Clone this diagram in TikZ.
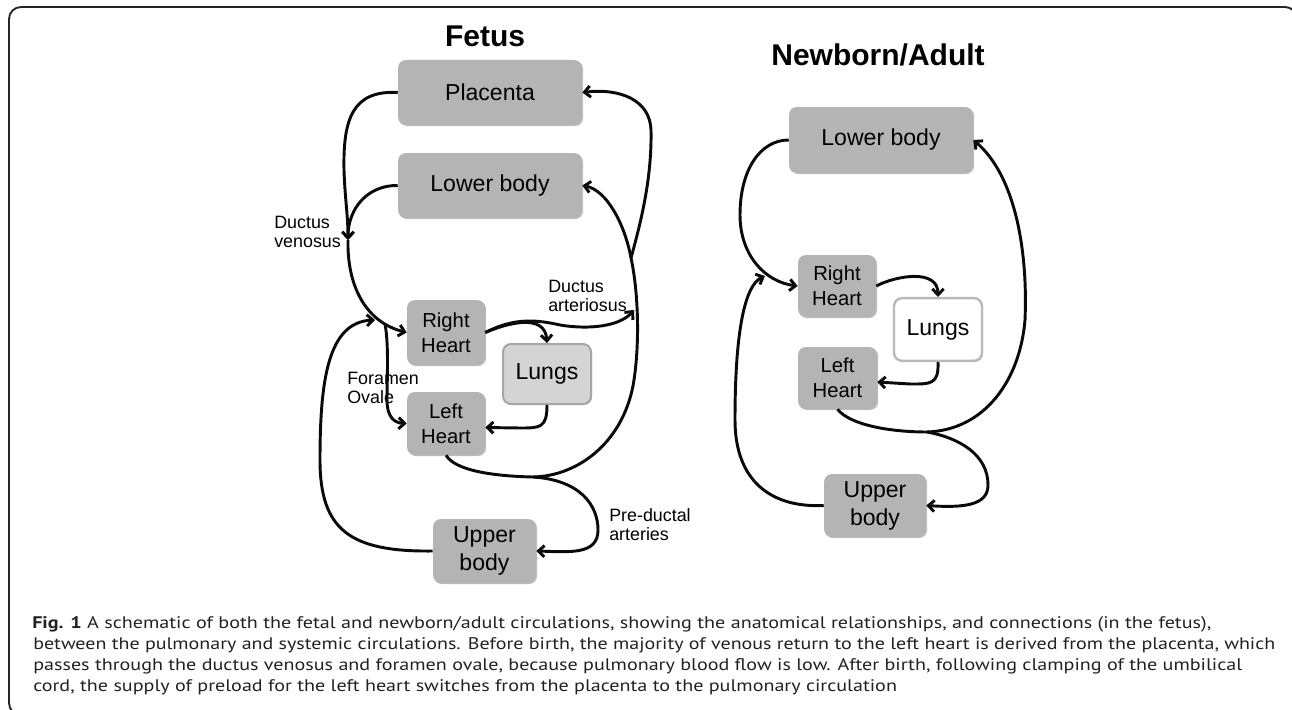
\documentclass[tikz,border=0pt]{standalone}
\usepackage{fontspec}
\setmainfont{Liberation Sans}
\newfontfamily\capfont{PT Sans}
\usetikzlibrary{arrows.meta,shadows,patterns}
\definecolor{boxgray}{RGB}{180,180,180}
\definecolor{lunggray}{RGB}{212,212,212}
\definecolor{lineblack}{RGB}{10,10,10}
\definecolor{capcol}{RGB}{35,32,33}
\newsavebox\capbox
\newcommand\fitto[2]{\sbox\capbox{#2}\pgfmathsetmacro\fitsx{#1/\the\wd\capbox}\xdef\lastsx{\fitsx}\scalebox{\fitsx}[1]{\usebox\capbox}}
\newcommand\fitwith[1]{\scalebox{\lastsx}[1]{#1}}
\begin{document}
\begin{tikzpicture}[x=0.75pt,y=-0.75pt,
  box/.style={rounded corners=6pt, fill=boxgray, inner sep=0pt, align=center,
    drop shadow={shadow xshift=0.8pt, shadow yshift=-0.8pt, opacity=0.25, fill=black}},
  bigf/.style={font=\fontsize{17.3}{21}\selectfont},
  hf/.style={font=\fontsize{15.2}{18.6}\selectfont},
  lbl/.style={font=\fontsize{13.4}{14.25}\selectfont, align=left, inner sep=0pt, anchor=north west},
  ttl/.style={font=\fontsize{22.5}{27}\bfseries\selectfont, anchor=base, inner sep=0pt},
  capl/.style={font=\capfont\fontsize{12.6}{15}\selectfont, text=capcol, anchor=base west, inner sep=0pt},
  conn/.style={line width=2.2pt, draw=lineblack},
  arr/.style={conn, -{Straight Barb[length=4.5pt,width=8.5pt]}}]
\useasboundingbox (0,0) rectangle (1292,710);
\clip (0,0) rectangle (1292,710);
% frame
\draw[line width=1.4pt, draw=black!85, rounded corners=9pt] (9,7) rectangle (1297,715);

% titles
\node[ttl] (tf) at (485,47) {Fetus};
\node[ttl] (tn) at (878,65) {Newborn/Adult};

% fetus boxes
\node[box, bigf, minimum width=138pt, minimum height=48.75pt] (pl) at (490,92.5) {Placenta};
\node[box, bigf, minimum width=138pt, minimum height=48.75pt] (lbf) at (490,185.5) {Lower body};
\node[box, hf, minimum width=58.5pt, minimum height=48.75pt] (rhf) at (446,332.5) {Right\\Heart};
\node[rounded corners=6pt, inner sep=0pt, draw=gray!70, line width=1.5pt, fill=lunggray,
      bigf, minimum width=66pt, minimum height=45pt,
      drop shadow={shadow xshift=0.8pt, shadow yshift=-0.8pt, opacity=0.25, fill=black}] (luf) at (547,374) {Lungs};
\node[box, hf, minimum width=58.5pt, minimum height=47.25pt] (lhf) at (446,423.5) {Left\\Heart};
\node[box, bigf, minimum width=77.25pt, minimum height=48pt] (ubf) at (484.5,551) {Upper\\body};

% newborn boxes
\node[box, bigf, minimum width=138pt, minimum height=49.5pt] (lbn) at (881,140) {Lower body};
\node[box, hf, minimum width=58.5pt, minimum height=46.5pt] (rhn) at (837,286) {Right\\Heart};
\node[rounded corners=6pt, inner sep=0pt, draw=gray!55, line width=1.8pt, fill=white,
      bigf, minimum width=66pt, minimum height=47pt,
      drop shadow={shadow xshift=0.8pt, shadow yshift=-0.8pt, opacity=0.2, fill=black}] (lun) at (938,329.5) {Lungs};
\node[box, hf, minimum width=59.25pt, minimum height=46.5pt] (lhn) at (837.5,378) {Left\\Heart};
\node[box, bigf, minimum width=76.5pt, minimum height=47.25pt] (ubn) at (875,505.5) {Upper\\body};

% labels
\node[lbl] (ldv) at (274,216) {Ductus\\venosus};
\node[lbl] (lda) at (548,280) {Ductus\\arteriosus};
\node[lbl] (lfo) at (347,372) {Foramen\\Ovale};
\node[lbl] (lpd) at (609,508) {Pre-ductal\\arteries};

% junction coordinates
\coordinate (dv) at (348,240);
\coordinate (fo) at (385,324);
\coordinate (ret) at (375,320);
\coordinate (da) at (634,310);
\coordinate (j1) at (533,477);
\coordinate (m1) at (631,258);
\coordinate (rtn) at (765,276);
\coordinate (j2) at (927,432);

% fetus connectors
\draw[arr] (pl.west) .. controls (352,90) and (343,120) .. (344,170) .. controls (345,200) and (348,215) .. (dv);
\draw[arr] (lbf.west) .. controls (368,185) and (348,208) .. (dv);
\draw[arr] (dv) .. controls (347,285) and (365,322) .. (rhf.west);
\draw[arr] (fo) .. controls (389,345) and (387,380) .. (387,400) .. controls (387,418) and (395,423) .. (lhf.west);
\draw[arr] (ubf.west) .. controls (350,552) and (320,530) .. (320,460) .. controls (320,380) and (328,322) .. (ret);
\draw[arr] (rhf.east) .. controls (505,324) and (545,312) .. (luf.north);
\draw[arr] (rhf.east) .. controls (510,320) and (530,318) .. (560,325) .. controls (590,330) and (620,326) .. (da);
\draw[arr] (luf.south) .. controls (547,428) and (540,428) .. (520,428) -- ([yshift=-3pt]lhf.east);
\draw[conn] (lhf.south) .. controls (455,470) and (490,476) .. (j1);
\draw[conn] (j1) .. controls (580,476) and (625,440) .. (634,380) .. controls (640,340) and (638,290) .. (m1);
\draw[arr] (m1) .. controls (640,225) and (652,180) .. (651,130) .. controls (650,100) and (620,88) .. (pl.east);
\draw[arr] (m1) .. controls (625,225) and (607,190) .. (lbf.east);
\draw[arr] (j1) .. controls (580,480) and (598,505) .. (598,530) .. controls (598,555) and (570,552) .. (ubf.east);

% newborn connectors
\draw[arr] (lbn.west) .. controls (760,140) and (740,170) .. (740,215) .. controls (740,255) and (765,282) .. (rhn.west);
\draw[arr] (ubn.west) .. controls (770,508) and (735,480) .. (735,420) .. controls (735,330) and (745,285) .. (rtn);
\draw[arr] (rhn.east) .. controls (895,276) and (938,268) .. (lun.north);
\draw[arr] (lun.south) .. controls (939,385) and (930,384) .. (910,384) -- ([yshift=-3pt]lhn.east);
\draw[conn] (lhn.south) .. controls (850,425) and (890,432) .. (j2);
\draw[arr] (j2) .. controls (985,430) and (1020,380) .. (1025,320) .. controls (1028,250) and (1015,175) .. (lbn.east);
\draw[arr] (j2) .. controls (960,438) and (988,455) .. (988,485) .. controls (988,505) and (965,508) .. (ubn.east);

% caption
\node[capl] (c1) at (32,628) {\fitto{884.25pt}{\textbf{Fig. 1} A schematic of both the fetal and newborn/adult circulations, showing the anatomical relationships, and connections (in the fetus),}};
\node[capl] (c2) at (33,649) {\fitto{931.5pt}{between the pulmonary and systemic circulations. Before birth, the majority of venous return to the left heart is derived from the placenta, which}};
\node[capl] (c3) at (33,670) {\fitto{906.75pt}{passes through the ductus venosus and foramen ovale, because pulmonary blood flow is low. After birth, following clamping of the umbilical}};
\node[capl] (c4) at (33,691) {\fitwith{cord, the supply of preload for the left heart switches from the placenta to the pulmonary circulation}};
\end{tikzpicture}
\end{document}
